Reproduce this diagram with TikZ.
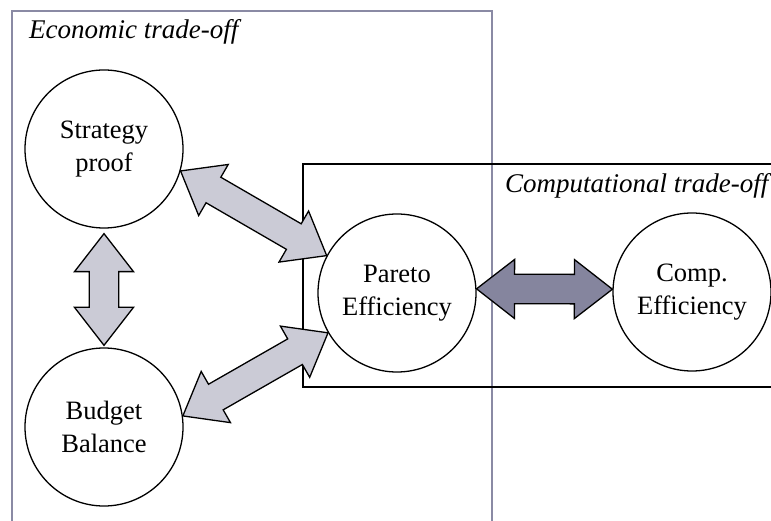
\documentclass[tikz,border=0pt]{standalone}
\usepackage{fontspec}
\setmainfont{Liberation Serif}
\usetikzlibrary{calc}

\definecolor{framegray}{HTML}{8A8AA4}
\definecolor{arrowlight}{HTML}{CBCBD6}
\definecolor{arrowdark}{HTML}{85859E}

% half widths and head length of the block arrows
\newcommand\arrowheadlen{38pt}
\newcommand\arrowheadhalf{29.5pt}
\newcommand\arrowshafthalf{14.75pt}

% double-headed block arrow between two points
\newcommand\blockarrow[3][]{%
  \draw[arrowbody,#1]
    (#2)
    -- ($(#2)!\arrowheadlen!(#3)!\arrowheadhalf!90:(#3)$)
    -- ($(#2)!\arrowheadlen!(#3)!\arrowshafthalf!90:(#3)$)
    -- ($(#3)!\arrowheadlen!(#2)!\arrowshafthalf!-90:(#2)$)
    -- ($(#3)!\arrowheadlen!(#2)!\arrowheadhalf!-90:(#2)$)
    -- (#3)
    -- ($(#3)!\arrowheadlen!(#2)!\arrowheadhalf!90:(#2)$)
    -- ($(#3)!\arrowheadlen!(#2)!\arrowshafthalf!90:(#2)$)
    -- ($(#2)!\arrowheadlen!(#3)!\arrowshafthalf!-90:(#3)$)
    -- ($(#2)!\arrowheadlen!(#3)!\arrowheadhalf!-90:(#3)$)
    -- cycle;%
}

\tikzset{
  concept/.style={circle, draw=black, line width=1.3pt, fill=white,
    minimum size=158pt, inner sep=0pt, align=center,
    font=\fontsize{26.5}{33.5}\selectfont},
  arrowbody/.style={draw=black, line width=1.3pt, line join=miter, fill=arrowlight},
  framelabel/.style={anchor=base west, inner sep=0pt,
    font=\fontsize{27}{32}\selectfont\itshape},
}

\begin{document}
\begin{tikzpicture}[x=1pt,y=-1pt]
  \useasboundingbox (0,0) rectangle (771,521);

  % frames of the two trade-offs
  \draw[framegray, line width=2pt] (12,521) -- (12,11) -- (492,11) -- (492,521);
  \node[framelabel] (econlabel) at (29,39) {Economic trade-off};

  \draw[black, line width=1.5pt] (771,164) -- (303,164) -- (303,387) -- (771,387);
  \node[framelabel] (complabel) at (505,193) {Computational trade-off};

  % properties
  \node[concept] (sp) at (104,149) {Strategy\\proof};
  \node[concept] (bb) at (104,427) {Budget\\Balance};
  \node[concept] (pe) at (397,293) {Pareto\\Efficiency};
  \node[concept] (ce) at (692,292) {Comp.\\Efficiency};

  % trade-off arrows
  \coordinate (v1) at ($(sp.south)+(0,5)$);
  \coordinate (v2) at ($(bb.north)+(0,-2)$);
  \blockarrow{v1}{v2}
  \blockarrow{sp.-16}{pe.152}
  \blockarrow{pe.210}{bb.8}
  \blockarrow[fill=arrowdark]{pe.3}{ce.178}
\end{tikzpicture}
\end{document}
